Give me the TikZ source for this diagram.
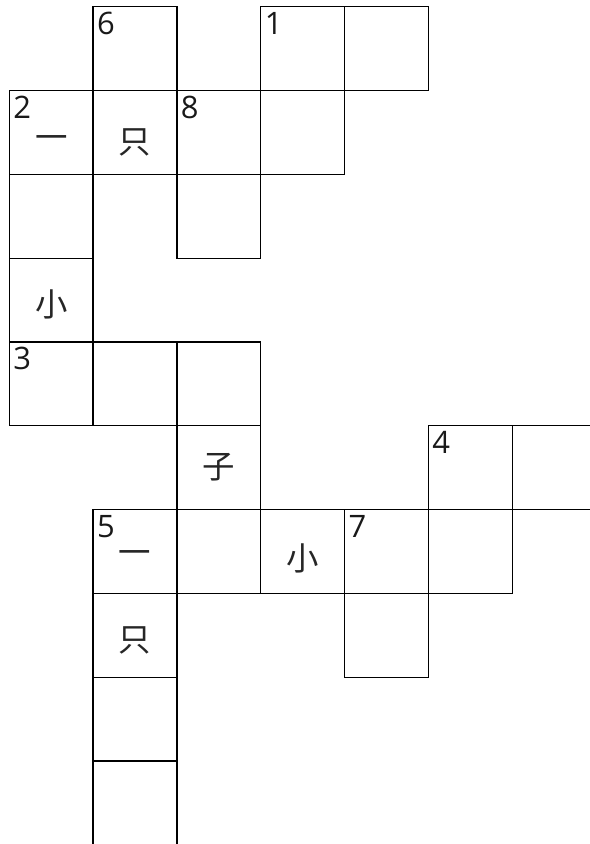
\documentclass[tikz,border=0pt]{standalone}
\usepackage{fontspec}
\setmainfont{Open Sans}
\newfontfamily\cjk{Noto Sans CJK SC}
\usetikzlibrary{positioning}

\begin{document}
\begin{tikzpicture}[
                x=2cm, y=-2cm,
                cell/.style={draw, line width=0.85pt, minimum size=2cm, inner sep=0pt, outer sep=0pt, anchor=north west},
                num/.style={anchor=base west, inner sep=0pt, text=black!90, font=\fontsize{21}{21}\selectfont},
                hz/.style={inner sep=0pt, text=black!85, font=\cjk\fontsize{22}{22}\selectfont},
            ]
            \useasboundingbox (-0.111,-0.080) rectangle (6.922,9.99);

            % === cells ===
            \foreach \c/\r in {1/0, 3/0, 4/0,
                               0/1, 1/1, 2/1, 3/1,
                               0/2, 2/2,
                               0/3,
                               0/4, 1/4, 2/4,
                               2/5, 5/5, 6/5,
                               1/6, 2/6, 3/6, 4/6, 5/6,
                               1/7, 4/7,
                               1/8,
                               1/9} {
                \node[cell] (c\c\r) at (\c,\r) {};
            }

            % === clue numbers ===
            \foreach \n/\cc in {6/c10, 1/c30, 2/c01, 8/c21, 3/c04, 4/c55, 5/c16, 7/c46} {
                \node[num] (n\n) at ([xshift=0.09cm, yshift=-0.66cm]\cc.north west) {\n};
            }

            % === filled characters ===
            \node[hz] (h01) at ([yshift=-0.25cm]c01.center) {一};
            \node[hz] (h11) at ([yshift=-0.25cm]c11.center) {只};
            \node[hz] (h03) at ([yshift=-0.10cm]c03.center) {小};
            \node[hz] (h25) at (c25.center) {子};
            \node[hz] (h16) at ([yshift=-0.15cm]c16.center) {一};
            \node[hz] (h36) at ([yshift=-0.16cm]c36.center) {小};
            \node[hz] (h17) at ([yshift=-0.12cm]c17.center) {只};
\end{tikzpicture}
\end{document}
